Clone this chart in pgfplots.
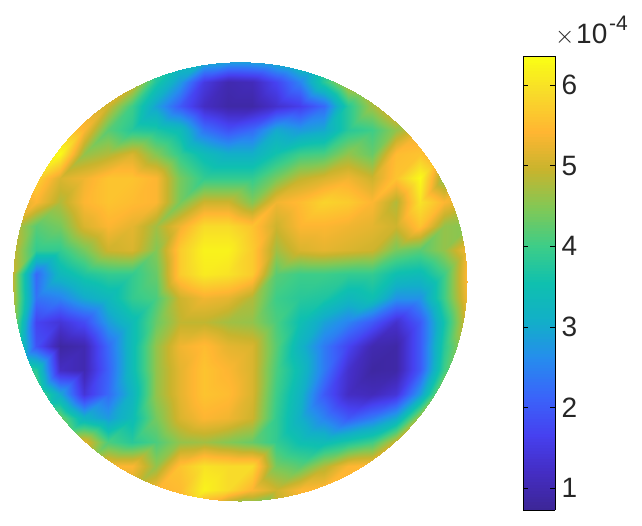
\documentclass[border=0pt]{standalone}
\usepackage{pgfplots}
\usepackage{fontspec}
\setmainfont{Liberation Sans}
\pgfplotsset{compat=1.18}

\pgfplotsset{colormap={parula}{
  rgb255=(60,38,150) rgb255=(68,45,195) rgb255=(70,65,240) rgb255=(58,100,250)
  rgb255=(38,140,238) rgb255=(18,175,200) rgb255=(15,192,175) rgb255=(62,205,135)
  rgb255=(130,200,85) rgb255=(200,180,45) rgb255=(255,182,50) rgb255=(248,218,42)
  rgb255=(250,255,20)}}

\begin{document}
\begin{tikzpicture}
\begin{axis}[
    scale only axis, width=642pt, height=525pt,
    xmin=0, xmax=642, ymin=0, ymax=525,
    y dir=reverse, hide axis, clip=false,
    view={0}{90},
    colormap name=parula,
    point meta min=0.727, point meta max=6.36,
    colorbar sampled,
    colorbar style={
        samples=160,
        at={(523/642,1-56/525)}, anchor=north west,
        scale only axis, width=32pt, height=454pt,
        ytick={1,2,3,4,5,6},
        ytick align=inside, xtick=\empty,
        tick style={black, line width=0.5pt},
        major tick length=5pt,
        axis line style={black, line width=0.6pt},
        yticklabel pos=right,
        yticklabel style={font=\fontsize{28}{28}\selectfont, color=black!85, xshift=3pt, /pgf/number format/assume math mode=true},
    },
]
\begin{scope}
\clip (axis cs:240,281.5) ellipse [x radius=227pt, y radius=219.5pt];
\addplot3[surf, shader=interp, mesh/cols=20] coordinates {
(12,58,4) (36,58,4) (60,58,4) (84,58,4) (108,58,4) (132,58,4.5) (156,58,4) (180,58,3.6) (204,58,3.4) (228,58,3.2) (252,58,3.2) (276,58,3.4) (300,58,3.8) (324,58,4) (348,58,4.5) (372,58,5) (396,58,5) (420,58,5) (444,58,5) (468,58,5)

(12,82,5) (36,82,5) (60,82,5) (84,82,5) (108,82,5.2) (132,82,5.2) (156,82,3.7) (180,82,2.8) (204,82,1.5) (228,82,1) (252,82,1.1) (276,82,1.7) (300,82,2.5) (324,82,3.8) (348,82,5) (372,82,5.3) (396,82,5) (420,82,5) (444,82,5) (468,82,5)

(12,106,5) (36,106,5) (60,106,5) (84,106,5.3) (108,106,5) (132,106,4) (156,106,2.9) (180,106,2) (204,106,1.2) (228,106,0.9) (252,106,0.9) (276,106,1.3) (300,106,1.6) (324,106,2.2) (348,106,3.8) (372,106,4.7) (396,106,5.4) (420,106,5) (444,106,5) (468,106,5)

(12,130,5) (36,130,5) (60,130,5.8) (84,130,5.4) (108,130,4.2) (132,130,3.8) (156,130,3.7) (180,130,3.4) (204,130,2.3) (228,130,1.9) (252,130,2.2) (276,130,3) (300,130,2.8) (324,130,3) (348,130,3.8) (372,130,4) (396,130,4.6) (420,130,5.2) (444,130,5) (468,130,5)

(12,154,5) (36,154,6) (60,154,6.3) (84,154,4.6) (108,154,4.8) (132,154,5.1) (156,154,4.5) (180,154,3.9) (204,154,3.4) (228,154,3.1) (252,154,3.1) (276,154,3.6) (300,154,4) (324,154,4.1) (348,154,4.6) (372,154,4.3) (396,154,5.5) (420,154,5.6) (444,154,5) (468,154,5)

(12,178,5) (36,178,5.8) (60,178,5.1) (84,178,5.3) (108,178,5.6) (132,178,5.6) (156,178,5.4) (180,178,4.4) (204,178,3.9) (228,178,3.9) (252,178,3.9) (276,178,4.4) (300,178,4.9) (324,178,5.1) (348,178,5.3) (372,178,5) (396,178,5.6) (420,178,6.3) (444,178,4.5) (468,178,5)

(12,202,5) (36,202,5.4) (60,202,4.8) (84,202,5.4) (108,202,5.6) (132,202,5.5) (156,202,5.4) (180,202,4.4) (204,202,5) (228,202,5) (252,202,4.5) (276,202,5.3) (300,202,5.5) (324,202,5.8) (348,202,5.7) (372,202,5.4) (396,202,4.8) (420,202,6) (444,202,5.4) (468,202,5)

(12,226,5) (36,226,4.2) (60,226,4.4) (84,226,5.1) (108,226,5.4) (132,226,5.2) (156,226,4.7) (180,226,5.3) (204,226,5.9) (228,226,5.9) (252,226,5.6) (276,226,5) (300,226,5.4) (324,226,5.4) (348,226,5.3) (372,226,5.2) (396,226,5) (420,226,5.6) (444,226,4.6) (468,226,4.5)

(12,250,5) (36,250,3.9) (60,250,3.9) (84,250,4.4) (108,250,5) (132,250,5.1) (156,250,4.5) (180,250,5.7) (204,250,6.2) (228,250,6.2) (252,250,5.7) (276,250,4.7) (300,250,5.1) (324,250,5.2) (348,250,5.1) (372,250,5) (396,250,4.4) (420,250,4.2) (444,250,4.6) (468,250,5.4)

(12,274,5) (36,274,2.2) (60,274,3.3) (84,274,3.7) (108,274,3.9) (132,274,3.9) (156,274,4.3) (180,274,5.7) (204,274,6.1) (228,274,6) (252,274,5.7) (276,274,4.2) (300,274,4) (324,274,4) (348,274,3.9) (372,274,3.9) (396,274,3.5) (420,274,3.4) (444,274,4) (468,274,5.5)

(12,298,5) (36,298,2.3) (60,298,2.5) (84,298,3) (108,298,3.3) (132,298,3.9) (156,298,4.1) (180,298,5) (204,298,5.3) (228,298,5.2) (252,298,4.8) (276,298,4) (300,298,3.8) (324,298,3.7) (348,298,3.3) (372,298,3.5) (396,298,2.7) (420,298,2.7) (444,298,4) (468,298,5.4)

(12,322,4.8) (36,322,1.7) (60,322,1.4) (84,322,1.8) (108,322,2.8) (132,322,3.4) (156,322,4.3) (180,322,4.9) (204,322,4.9) (228,322,4.7) (252,322,4.6) (276,322,4.1) (300,322,3.5) (324,322,2.9) (348,322,2.5) (372,322,2) (396,322,1.3) (420,322,2) (444,322,3.6) (468,322,5.2)

(12,346,4.6) (36,346,1.9) (60,346,0.85) (84,346,1) (108,346,2.2) (132,346,3.4) (156,346,4.6) (180,346,5.3) (204,346,5.5) (228,346,5.2) (252,346,5.1) (276,346,4.2) (300,346,3.2) (324,346,2.4) (348,346,1.7) (372,346,1) (396,346,0.9) (420,346,2) (444,346,3.8) (468,346,5)

(12,370,4.4) (36,370,3.8) (60,370,1.2) (84,370,1) (108,370,2.1) (132,370,3.4) (156,370,4.6) (180,370,5.2) (204,370,5.6) (228,370,5.4) (252,370,5.1) (276,370,4.1) (300,370,3.4) (324,370,2.4) (348,370,1.3) (372,370,0.85) (396,370,0.9) (420,370,2) (444,370,4) (468,370,5)

(12,394,4.4) (36,394,4.4) (60,394,3) (84,394,1.4) (108,394,2.2) (132,394,3.2) (156,394,4.6) (180,394,5.2) (204,394,5.6) (228,394,5.5) (252,394,5.1) (276,394,4) (300,394,3.2) (324,394,2) (348,394,1.2) (372,394,1.1) (396,394,1.4) (420,394,2.8) (444,394,5) (468,394,5)

(12,418,4.6) (36,418,4.6) (60,418,4.4) (84,418,3.2) (108,418,2.8) (132,418,3.4) (156,418,4.4) (180,418,5.1) (204,418,5.4) (228,418,5.3) (252,418,5) (276,418,3.9) (300,418,3.1) (324,418,2.5) (348,418,2) (372,418,2.4) (396,418,3) (420,418,4.8) (444,418,5) (468,418,5)

(12,442,5) (36,442,5) (60,442,5) (84,442,5.2) (108,442,4.1) (132,442,3.8) (156,442,4.1) (180,442,4.6) (204,442,4.7) (228,442,4.5) (252,442,4.3) (276,442,3.9) (300,442,3.5) (324,442,3.4) (348,442,3.7) (372,442,4) (396,442,5) (420,442,5.4) (444,442,5) (468,442,5)

(12,466,5) (36,466,5) (60,466,5) (84,466,5) (108,466,5.4) (132,466,5.4) (156,466,4.6) (180,466,5.6) (204,466,6) (228,466,5.9) (252,466,5.9) (276,466,4.4) (300,466,4.2) (324,466,4.8) (348,466,5.4) (372,466,5.5) (396,466,5.4) (420,466,5) (444,466,5) (468,466,5)

(12,490,5) (36,490,5) (60,490,5) (84,490,5) (108,490,5) (132,490,5) (156,490,5.4) (180,490,5.5) (204,490,6.2) (228,490,5.9) (252,490,5.4) (276,490,5) (300,490,5.4) (324,490,5.5) (348,490,5.5) (372,490,5) (396,490,5) (420,490,5) (444,490,5) (468,490,5)

(12,514,5) (36,514,5) (60,514,5) (84,514,5) (108,514,5) (132,514,5) (156,514,5.3) (180,514,5.3) (204,514,4.6) (228,514,3.8) (252,514,3.8) (276,514,4.8) (300,514,5.3) (324,514,5) (348,514,5) (372,514,5) (396,514,5) (420,514,5) (444,514,5) (468,514,5)
};
\end{scope}
\path (axis cs:0,0) rectangle (axis cs:642,525);
\node[anchor=base west, inner sep=0pt, color=black!85, font=\fontsize{28}{28}\selectfont] at (axis cs:555,43) {$\times$};
\node[anchor=base west, inner sep=0pt, color=black!85, font=\fontsize{28}{28}\selectfont] at (axis cs:576,43) {10};
\node[anchor=base west, inner sep=0pt, color=black!85, font=\fontsize{21}{21}\selectfont] at (axis cs:609,30) {-4};
\end{axis}
\end{tikzpicture}
\end{document}
